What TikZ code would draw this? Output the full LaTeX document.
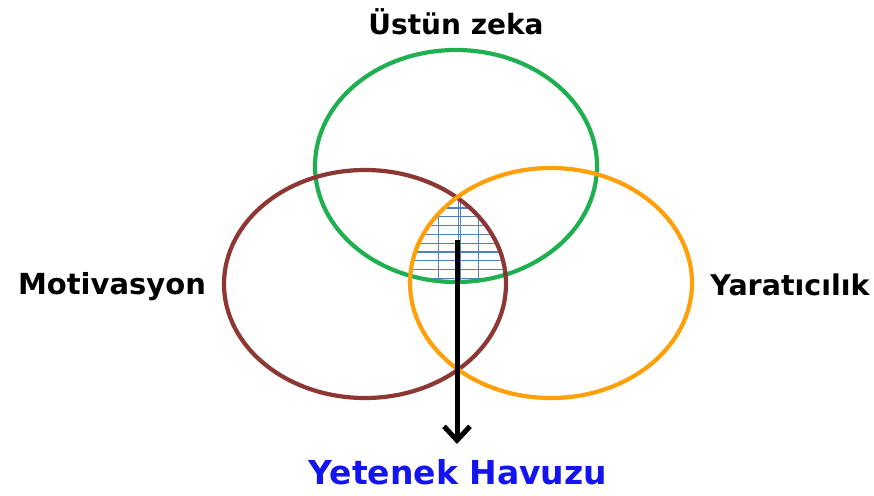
\documentclass[tikz,border=0pt]{standalone}
\usepackage{fontspec}
\setmainfont{DejaVu Sans}
\usepackage{xcolor}
\usetikzlibrary{arrows.meta,positioning,calc}

\definecolor{zekagreen}{RGB}{30,176,80}
\definecolor{motbrown}{RGB}{140,55,52}
\definecolor{yarorange}{RGB}{255,160,10}
\definecolor{gridblue}{RGB}{79,129,189}
\definecolor{poolblue}{RGB}{20,20,240}

\begin{document}
\begin{tikzpicture}[x=1pt, y=-1pt,
    ring/.style={line width=4.2pt},
    lbl/.style={font=\bfseries\fontsize{28}{30}\selectfont, inner sep=0pt}]
\useasboundingbox (0,0) rectangle (874,495);
\coordinate (Z) at (456,166);
\coordinate (M) at (365,284);
\coordinate (Y) at (551,283);
% hatched intersection
\begin{scope}
\clip (Z) ellipse [x radius=141pt, y radius=116pt];
\clip (M) ellipse [x radius=141pt, y radius=114pt];
\clip (Y) ellipse [x radius=141pt, y radius=115pt];
\foreach \yy in {199.2,208,216.8,225.6,234.4,243.2,252,260.8,269.6,278.4}
  \draw[gridblue, line width=1.1pt] (400,\yy) -- (520,\yy);
\foreach \xx in {438.3,458.3,460.7,478.3}
  \draw[gridblue, line width=1.1pt] (\xx,190) -- (\xx,290);
\end{scope}
% circles
\draw[ring, zekagreen] (Z) ellipse [x radius=141pt, y radius=116pt];
\draw[ring, motbrown] (M) ellipse [x radius=141pt, y radius=114pt];
\draw[ring, yarorange] (Y) ellipse [x radius=141pt, y radius=115pt];
% labels
\node[lbl] (zeka) at (456,22) {Üstün zeka};
\node[lbl, font=\bfseries\fontsize{29}{31}\selectfont] (mot) at (112,287) {Motivasyon};
\node[lbl, font=\bfseries\fontsize{28.5}{31}\selectfont] (yar) at (790,285) {Yaratıcılık};
\node[lbl, font=\bfseries\fontsize{33}{36}\selectfont, text=poolblue] (pool) at (458,472) {Yetenek Havuzu};
% arrow
\coordinate (start) at (457,240);
\coordinate (tip) at (457,444);
\draw[line width=5pt, -{Straight Barb[length=14pt, width=26pt, line width=5pt]}] (start) -- (tip);
\end{tikzpicture}
\end{document}
